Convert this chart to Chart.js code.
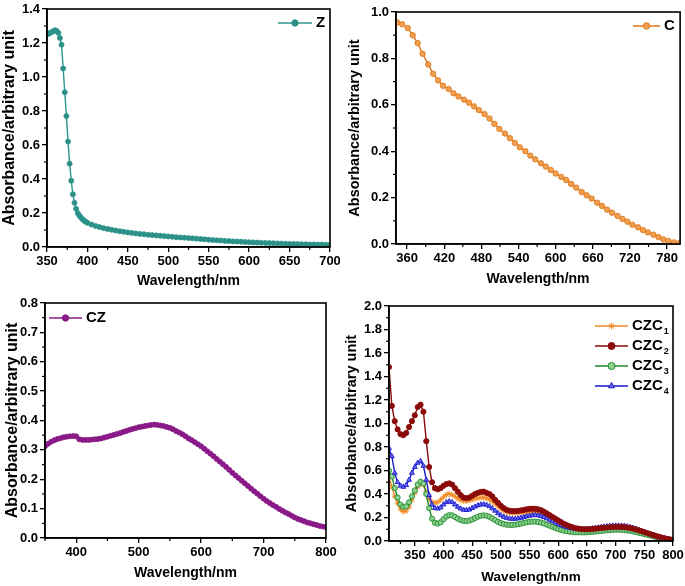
<!DOCTYPE html>
<html>
<head>
<meta charset="utf-8">
<script src="https://cdn.jsdelivr.net/npm/chart.js@4.4.1/dist/chart.umd.min.js"></script>
<style>
html,body{margin:0;padding:0;background:#fff;}
#wrap{position:relative;width:685px;height:586px;background:#fff;overflow:hidden;}
canvas{position:absolute;}
</style>
</head>
<body>
<div id="wrap">
<canvas id="c1" width="340" height="290" style="left:0;top:0;width:340px;height:290px"></canvas>
<canvas id="c2" width="345" height="290" style="left:340px;top:0;width:345px;height:290px"></canvas>
<canvas id="c3" width="340" height="296" style="left:0;top:290px;width:340px;height:296px"></canvas>
<canvas id="c4" width="345" height="296" style="left:340px;top:290px;width:345px;height:296px"></canvas>
</div>
<script>
// ---------- DATA ----------
const zWave = [350,352,354,356,358,360,362,364,366,368,370,372,374,376,378,380,382,384,386,388,390,392,394,396,398,400,
  405,410,415,420,425,430,435,440,445,450,455,460,465,470,475,480,485,490,495,500,505,510,515,520,525,530,535,540,545,550,
  555,560,565,570,575,580,585,590,595,600,605,610,615,620,625,630,635,640,645,650,655,660,665,670,675,680,685,690,695,700];
const zAbs = [1.25,1.255,1.26,1.265,1.27,1.275,1.27,1.26,1.23,1.19,1.05,0.91,0.77,0.62,0.49,0.39,0.31,0.26,0.225,0.2,0.185,0.173,0.163,0.155,0.148,0.142,
  0.132,0.124,0.117,0.111,0.106,0.101,0.097,0.093,0.089,0.086,0.083,0.08,0.077,0.075,0.072,0.07,0.068,0.066,0.064,0.062,
  0.06,0.058,0.056,0.055,0.053,0.051,0.049,0.047,0.045,0.043,0.041,0.039,0.038,0.036,0.035,0.033,0.032,0.031,0.029,0.028,
  0.027,0.026,0.025,0.024,0.023,0.022,0.021,0.02,0.019,0.018,0.018,0.017,0.016,0.016,0.015,0.015,0.014,0.014,0.013,0.013];

const cWave = [344,352,361,369,377,385,394,402,410,418,427,435,443,452,460,468,476,485,493,501,509,518,526,534,542,551,559,567,
  576,584,592,600,609,617,625,633,642,650,658,667,675,683,691,700,708,716,724,733,741,749,758,766,774,782,791,799];
const cAbs = [0.955,0.947,0.931,0.90,0.866,0.82,0.774,0.734,0.705,0.682,0.668,0.65,0.636,0.622,0.609,0.593,0.577,0.56,0.541,0.518,
  0.496,0.476,0.456,0.436,0.417,0.40,0.381,0.365,0.348,0.334,0.319,0.304,0.289,0.276,0.259,0.243,0.224,0.21,0.196,0.178,
  0.164,0.148,0.135,0.121,0.108,0.096,0.083,0.072,0.06,0.05,0.04,0.03,0.02,0.013,0.007,0.003];

const czWave = [350,355,360,365,370,375,380,385,390,395,400,405,410,415,420,425,430,435,440,445,450,455,460,465,470,475,480,485,490,495,
  500,505,510,515,520,525,530,535,540,545,550,555,560,565,570,575,580,585,590,595,600,605,610,615,620,625,630,635,640,645,
  650,655,660,665,670,675,680,685,690,695,700,705,710,715,720,725,730,735,740,745,750,755,760,765,770,775,780,785,790,795,800];
const czAbs = [0.312,0.321,0.328,0.333,0.337,0.340,0.343,0.345,0.346,0.347,0.346,0.336,0.334,0.334,0.334,0.335,0.336,0.337,0.339,0.342,
  0.345,0.348,0.351,0.354,0.357,0.361,0.364,0.368,0.371,0.374,0.377,0.379,0.381,0.383,0.385,0.386,0.385,0.383,0.381,0.378,
  0.375,0.37,0.364,0.359,0.353,0.346,0.339,0.333,0.326,0.319,0.312,0.304,0.295,0.287,0.278,0.269,0.26,0.251,0.242,0.232,
  0.222,0.213,0.204,0.195,0.186,0.177,0.168,0.159,0.151,0.142,0.134,0.126,0.119,0.112,0.106,0.099,0.093,0.087,0.082,0.076,
  0.07,0.065,0.061,0.057,0.053,0.05,0.047,0.044,0.041,0.039,0.037];

const czcWave = [305,310,315,320,325,330,335,340,345,350,355,360,365,370,375,380,385,390,395,400,405,410,415,420,425,430,435,440,445,450,
  455,460,465,470,475,480,485,490,495,500,505,510,515,520,525,530,535,540,545,550,555,560,565,570,575,580,585,590,595,600,
  605,610,615,620,625,630,635,640,645,650,655,660,665,670,675,680,685,690,695,700,705,710,715,720,725,730,735,740,745,750,
  755,760,765,770,775,780,785,790,795,800];
const czc1 = [0.55,0.46,0.38,0.32,0.27,0.25,0.255,0.29,0.35,0.41,0.46,0.49,0.48,0.42,0.36,0.33,0.325,0.33,0.35,0.375,
  0.395,0.40,0.395,0.38,0.36,0.348,0.34,0.34,0.345,0.352,0.36,0.367,0.37,0.37,0.365,0.353,0.335,0.315,0.293,0.273,
  0.257,0.246,0.24,0.238,0.237,0.238,0.24,0.243,0.245,0.247,0.247,0.245,0.24,0.232,0.22,0.207,0.193,0.178,0.164,0.15,
  0.137,0.126,0.116,0.108,0.101,0.096,0.093,0.091,0.09,0.09,0.091,0.093,0.095,0.097,0.099,0.101,0.103,0.105,0.106,0.107,
  0.107,0.106,0.104,0.101,0.097,0.092,0.086,0.079,0.072,0.065,0.058,0.051,0.044,0.038,0.032,0.026,0.021,0.016,0.012,0.009];
const czc2 = [1.48,1.15,1.02,0.95,0.91,0.90,0.92,0.97,1.02,1.07,1.14,1.16,1.10,0.85,0.63,0.50,0.45,0.44,0.45,0.47,
  0.485,0.49,0.48,0.45,0.42,0.39,0.37,0.365,0.37,0.385,0.40,0.41,0.418,0.42,0.41,0.40,0.38,0.35,0.325,0.30,
  0.28,0.265,0.258,0.255,0.255,0.256,0.26,0.265,0.27,0.274,0.275,0.274,0.27,0.262,0.25,0.235,0.22,0.205,0.19,0.175,
  0.16,0.145,0.135,0.125,0.117,0.11,0.105,0.102,0.10,0.10,0.101,0.103,0.105,0.108,0.11,0.113,0.115,0.117,0.119,0.12,
  0.12,0.12,0.118,0.115,0.111,0.105,0.099,0.092,0.084,0.076,0.068,0.06,0.052,0.044,0.037,0.03,0.024,0.018,0.013,0.01];
const czc3 = [0.60,0.55,0.45,0.37,0.31,0.29,0.295,0.33,0.38,0.43,0.48,0.505,0.49,0.40,0.28,0.19,0.155,0.148,0.16,0.185,
  0.208,0.22,0.218,0.205,0.19,0.178,0.171,0.17,0.174,0.183,0.195,0.207,0.215,0.218,0.215,0.206,0.193,0.178,0.163,0.152,
  0.144,0.139,0.137,0.137,0.139,0.143,0.148,0.154,0.159,0.163,0.165,0.165,0.162,0.157,0.149,0.14,0.13,0.12,0.11,0.101,
  0.094,0.088,0.083,0.079,0.076,0.074,0.073,0.073,0.073,0.074,0.076,0.078,0.08,0.083,0.086,0.089,0.091,0.093,0.095,0.096,
  0.096,0.095,0.093,0.09,0.087,0.082,0.077,0.071,0.065,0.059,0.053,0.047,0.041,0.035,0.03,0.025,0.02,0.015,0.011,0.008];
const czc4 = [0.79,0.72,0.58,0.50,0.47,0.46,0.475,0.52,0.58,0.63,0.665,0.68,0.64,0.52,0.39,0.31,0.28,0.275,0.285,0.31,
  0.33,0.337,0.33,0.31,0.29,0.275,0.265,0.263,0.267,0.28,0.292,0.303,0.31,0.312,0.307,0.295,0.277,0.257,0.235,0.218,
  0.205,0.196,0.19,0.188,0.189,0.192,0.197,0.203,0.21,0.215,0.219,0.22,0.218,0.212,0.203,0.192,0.18,0.168,0.156,0.145,
  0.135,0.126,0.118,0.112,0.107,0.103,0.101,0.10,0.10,0.101,0.104,0.107,0.111,0.115,0.119,0.122,0.125,0.128,0.13,0.131,
  0.131,0.13,0.128,0.124,0.119,0.112,0.104,0.095,0.086,0.077,0.068,0.059,0.05,0.042,0.035,0.028,0.022,0.016,0.012,0.009];

const xTicks1 = [350,400,450,500,550,600,650,700];
const xTicks2 = [360,420,480,540,600,660,720,780];
const xTicks3 = [400,500,600,700,800];
const xTicks4 = [350,400,450,500,550,600,650,700,750,800];

// ---------- HELPERS ----------
const FONT = '"Liberation Sans", Arial, Helvetica, sans-serif';
const pts = (xs, ys) => xs.map((x, i) => ({x: x, y: ys[i]}));

const frameAndMinor = {
  id: 'frameAndMinor',
  afterDraw(chart) {
    const ctx = chart.ctx, a = chart.chartArea;
    ctx.save();
    ctx.strokeStyle = '#000';
    ctx.lineWidth = 1.2;
    ['x', 'y'].forEach(id => {
      const s = chart.scales[id];
      const t = s.ticks.map(k => k.value);
      if (t.length < 2) return;
      const step = t[1] - t[0];
      for (let v = t[0] - step / 2; v <= s.max + 1e-9; v += step) {
        if (v < s.min - 1e-9) continue;
        const p = s.getPixelForValue(v);
        ctx.beginPath();
        if (id === 'x') { ctx.moveTo(p, a.bottom); ctx.lineTo(p, a.bottom + 3); }
        else { ctx.moveTo(a.left, p); ctx.lineTo(a.left - 3, p); }
        ctx.stroke();
      }
    });
    ctx.lineWidth = 1.6;
    ctx.strokeRect(a.left, a.top, a.right - a.left, a.bottom - a.top);
    ctx.restore();
  }
};

const inLegend = {
  id: 'inLegend',
  afterDraw(chart, args, opts) {
    const ctx = chart.ctx;
    ctx.save();
    (opts.items || []).forEach(it => {
      ctx.strokeStyle = it.color; ctx.lineWidth = 1.5;
      ctx.beginPath(); ctx.moveTo(it.x, it.y); ctx.lineTo(it.x + it.len, it.y); ctx.stroke();
      ctx.fillStyle = it.fill || it.color; ctx.strokeStyle = it.color; ctx.lineWidth = 1;
      Chart.helpers.drawPoint(ctx, {pointStyle: it.style, radius: it.r || 3.5, rotation: 0, borderWidth: 1}, it.x + it.len / 2, it.y);
      ctx.fillStyle = '#000';
      ctx.font = 'bold 15px ' + FONT;
      ctx.textBaseline = 'middle';
      ctx.textAlign = 'left';
      ctx.fillText(it.label, it.x + it.len + 4, it.y);
      if (it.sub) {
        const w = ctx.measureText(it.label).width;
        ctx.font = 'bold 9px ' + FONT;
        ctx.fillText(it.sub, it.x + it.len + 4 + w + 1, it.y + 6);
      }
    });
    ctx.restore();
  }
};

function yAxis(o) {
  return {
    type: 'linear', position: 'left', min: o.min, max: o.max,
    ticks: {stepSize: o.step, color: '#000', font: {family: FONT, size: 13, weight: 'bold'}, padding: 2,
      callback: v => Number(v).toFixed(1)},
    grid: {drawOnChartArea: false, drawTicks: true, tickLength: 5, color: '#000', lineWidth: 1.3},
    border: {display: true, color: '#000', width: 1.6},
    title: {display: true, text: 'Absorbance/arbitrary unit', color: '#000',
      font: {family: FONT, size: o.tsize, weight: 'bold'}, padding: 0},
    afterFit(s) { s.width = o.width; s.paddingTop = 0; s.paddingBottom = 0; s.paddingLeft = 0; s.paddingRight = 0; }
  };
}
function xAxis(o) {
  return {
    type: 'linear', position: 'bottom', min: o.min, max: o.max,
    ticks: {autoSkip: false, maxRotation: 0, color: '#000', font: {family: FONT, size: 13, weight: 'bold'}, padding: 2,
      callback: v => String(Math.round(v))},
    afterBuildTicks(s) { s.ticks = o.ticks.map(v => ({value: v})); },
    grid: {drawOnChartArea: false, drawTicks: true, tickLength: 5, color: '#000', lineWidth: 1.3},
    border: {display: true, color: '#000', width: 1.6},
    title: {display: true, text: 'Wavelength/nm', color: '#000',
      font: {family: FONT, size: o.tsize, weight: 'bold'}, padding: 0},
    afterFit(s) { s.height = o.height; s.paddingTop = 0; s.paddingBottom = 0; s.paddingLeft = 0; s.paddingRight = 0; }
  };
}
function ds(label, data, color, fill, style, r, order) {
  return {label, data, showLine: true, borderColor: color, borderWidth: 1.4,
    pointStyle: style, pointRadius: r, pointBackgroundColor: fill, pointBorderColor: color,
    pointBorderWidth: 0.9, tension: 0, order: order || 0};
}
function make(id, datasets, x, y, padding, legendItems) {
  return new Chart(document.getElementById(id), {
    type: 'scatter',
    data: {datasets},
    options: {
      responsive: false, animation: false, devicePixelRatio: 1,
      layout: {padding},
      scales: {x: xAxis(x), y: yAxis(y)},
      plugins: {legend: {display: false}, tooltip: {enabled: false}, inLegend: {items: legendItems}}
    },
    plugins: [frameAndMinor, inLegend]
  });
}

// ---------- CHARTS ----------
make('c1',
  [ds('Z', pts(zWave, zAbs), '#2a978c', '#2f8f86', 'circle', 2.5)],
  {min: 350, max: 700, ticks: xTicks1, height: 43, tsize: 14},
  {min: 0, max: 1.4, step: 0.2, width: 47, tsize: 16},
  {left: 0, top: 9, right: 10, bottom: 0},
  [{label: 'Z', x: 278, y: 23, len: 34, color: '#2a978c', fill: '#2f8f86', style: 'circle', r: 3.2}]);

make('c2',
  [ds('C', pts(cWave, cAbs), '#e0761a', '#f0a050', 'circle', 2.7)],
  {min: 342, max: 801, ticks: xTicks2, height: 44, tsize: 14},
  {min: 0, max: 1.0, step: 0.2, width: 50, tsize: 14.5},
  {left: 6, top: 12, right: 4, bottom: 2},
  [{label: 'C', x: 293, y: 26, len: 27, color: '#e0761a', fill: '#f0a050', style: 'circle', r: 3.2}]);

make('c3',
  [ds('CZ', pts(czWave, czAbs), '#8a1a88', '#8a1a88', 'circle', 2.5)],
  {min: 350, max: 800, ticks: xTicks3, height: 44, tsize: 14},
  {min: 0, max: 0.8, step: 0.1, width: 42, tsize: 16},
  {left: 3, top: 13, right: 14, bottom: 4},
  [{label: 'CZ', x: 49, y: 28, len: 33, color: '#8a1a88', fill: '#8a1a88', style: 'circle', r: 3.2}]);

make('c4',
  [ds('CZC1', pts(czcWave, czc1), '#f08a24', '#f8c080', 'star', 3, 3),
   ds('CZC3', pts(czcWave, czc3), '#1f8a2e', '#8fd08f', 'circle', 2.6, 2),
   ds('CZC4', pts(czcWave, czc4), '#1a1acc', '#6a6af0', 'triangle', 2.8, 1),
   ds('CZC2', pts(czcWave, czc2), '#8b0a0a', '#8b0a0a', 'circle', 2.6, 0)],
  {min: 305, max: 800, ticks: xTicks4, height: 44, tsize: 13.5},
  {min: 0, max: 2.0, step: 0.2, width: 46, tsize: 14.5},
  {left: 3, top: 16, right: 12, bottom: 1},
  [{label: 'CZC', sub: '1', x: 255, y: 36, len: 33, color: '#f08a24', fill: '#f8c080', style: 'star', r: 3.5},
   {label: 'CZC', sub: '2', x: 255, y: 56, len: 33, color: '#8b0a0a', fill: '#8b0a0a', style: 'circle', r: 3.5},
   {label: 'CZC', sub: '3', x: 255, y: 76, len: 33, color: '#1f8a2e', fill: '#8fd08f', style: 'circle', r: 3.5},
   {label: 'CZC', sub: '4', x: 255, y: 96, len: 33, color: '#1a1acc', fill: '#6a6af0', style: 'triangle', r: 3.5}]);
</script>
</body>
</html>
